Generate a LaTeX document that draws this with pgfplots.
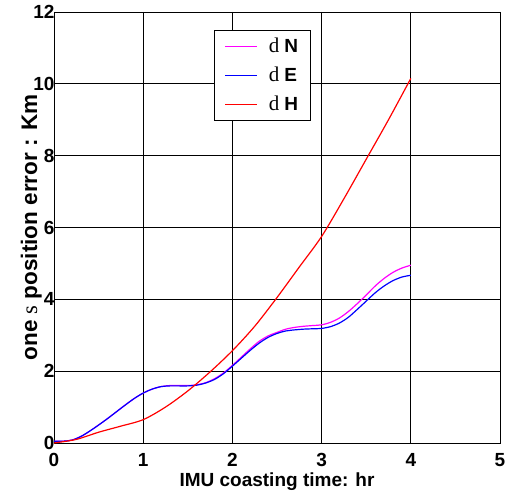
\documentclass[border=0pt]{standalone}
\usepackage{fontspec}
\setmainfont{Liberation Sans}
\newfontfamily\serif{Liberation Serif}
\usepackage{pgfplots}
\pgfplotsset{compat=1.18}
\definecolor{mN}{HTML}{FF00FF}
\definecolor{mE}{HTML}{0000FF}
\definecolor{mH}{HTML}{FF0000}
\newcommand{\dl}{{\serif\mdseries\fontsize{21bp}{21bp}\selectfont d}\hspace{5bp}}
\begin{document}
\begin{tikzpicture}
\begin{axis}[
    scale only axis,
    width=446bp, height=431bp,
    xmin=0, xmax=5, ymin=0, ymax=12,
    xtick={0,1,...,5}, ytick={0,2,...,12},
    grid=major,
    major grid style={black, line width=0.7bp},
    axis line style={line width=0.8bp},
    tick style={black, line width=0.8bp},
    major tick length=5bp,
    tick align=inside, xtick pos=both, ytick pos=both,
    /pgf/number format/assume math mode=true,
    ticklabel style={font=\bfseries\fontsize{19bp}{19bp}\selectfont},
    xticklabel style={yshift=-7bp},
    yticklabel style={xshift=4bp},
    xlabel={IMU coasting time: hr},
    ylabel={one {\serif\mdseries s} position error : Km},
    xlabel style={font=\bfseries\fontsize{19bp}{19bp}\selectfont,
        at={(axis description cs:0.5,-0.102)}, anchor=base},
    ylabel style={font=\bfseries\fontsize{22.5bp}{22.5bp}\selectfont,
        at={(axis description cs:-0.038,0.5)}, anchor=base},
    legend style={at={(axis description cs:0.359,0.958)}, anchor=north west,
        fill=white, font=\bfseries\fontsize{19bp}{19bp}\selectfont,
        inner xsep=10bp, inner ysep=6bp, row sep=9bp,
        /tikz/every odd column/.append style={column sep=9bp}},
    legend image code/.code={\draw[#1,sharp plot,line width=1.6bp] plot coordinates {(0bp,0bp) (16bp,0bp) (32bp,0bp)};},
    legend cell align=left,
]
% dN
\addplot[draw=mN, line width=1.2bp, smooth] coordinates {
(0,0.05) (0.1,0.05) (0.2,0.08) (0.3,0.18) (0.4,0.33) (0.5,0.5) (0.6,0.68)
(0.7,0.87) (0.8,1.06) (0.9,1.24) (1.0,1.39) (1.1,1.5) (1.2,1.57) (1.3,1.6)
(1.4,1.6) (1.5,1.6) (1.6,1.62) (1.7,1.68) (1.8,1.79) (1.9,1.95) (2.0,2.16)
(2.1,2.39) (2.2,2.62) (2.3,2.83) (2.4,2.98) (2.5,3.08) (2.6,3.17) (2.7,3.22)
(2.8,3.25) (2.9,3.27) (3.0,3.29) (3.1,3.36) (3.2,3.48) (3.3,3.66) (3.4,3.88)
(3.5,4.12) (3.6,4.37) (3.7,4.58) (3.8,4.75) (3.9,4.87) (4.0,4.95)};
\addlegendentry{\dl N}
% dE
\addplot[draw=mE, line width=1.2bp, smooth] coordinates {
(0,0.05) (0.1,0.05) (0.2,0.08) (0.3,0.18) (0.4,0.33) (0.5,0.5) (0.6,0.68)
(0.7,0.87) (0.8,1.06) (0.9,1.24) (1.0,1.39) (1.1,1.5) (1.2,1.57) (1.3,1.59)
(1.4,1.59) (1.5,1.59) (1.6,1.61) (1.7,1.67) (1.8,1.77) (1.9,1.93) (2.0,2.14)
(2.1,2.36) (2.2,2.58) (2.3,2.78) (2.4,2.94) (2.5,3.05) (2.6,3.12) (2.7,3.15)
(2.8,3.17) (2.9,3.18) (3.0,3.19) (3.1,3.24) (3.2,3.34) (3.3,3.5) (3.4,3.72)
(3.5,3.95) (3.6,4.18) (3.7,4.37) (3.8,4.52) (3.9,4.62) (4.0,4.67)};
\addlegendentry{\dl E}
% dH
\addplot[draw=mH, line width=1.2bp, smooth] coordinates {
(0,0.0) (0.25,0.1) (0.5,0.3) (0.75,0.47) (1.0,0.65) (1.25,1.0) (1.5,1.45)
(1.75,1.98) (2.0,2.57) (2.25,3.25) (2.5,4.05) (2.75,4.9) (3.0,5.75)
(3.25,6.8) (3.5,7.9) (3.75,9.0) (4.0,10.15)};
\addlegendentry{\dl H}
\end{axis}
\pgfresetboundingbox
\useasboundingbox (-54bp,-59bp) rectangle (465bp,443bp);
\end{tikzpicture}
\end{document}
